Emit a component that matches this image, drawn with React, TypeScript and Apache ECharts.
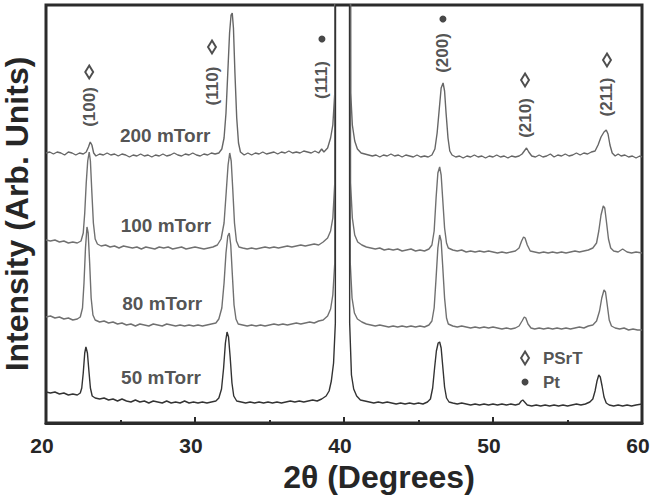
import React, { useEffect, useRef } from "react";
import * as echarts from "echarts";

// 2θ (degrees), intensity (arb. units, offset traces)
const trace50: number[][] = [
  [20.0,31],[20.3,30],[20.6,31],[20.9,29],[21.2,30],[21.5,28],[21.8,29],[22.1,28],[22.3,30],[22.4,35],[22.5,50],[22.6,70],[22.68,76],[22.78,70],[22.88,52],[22.98,35],[23.1,27],[23.3,25],[23.6,24],[23.9,25],[24.2,23],[24.5,24],[24.8,22],[25.1,24],[25.4,22],[25.7,21],[26.0,23],[26.3,21],[26.6,22],[26.9,20],[27.2,22],[27.5,21],[27.8,20],[28.1,22],[28.4,20],[28.7,21],[29.0,20],[29.3,22],[29.6,20],[29.9,21],[30.2,20],[30.5,21],[30.8,20],[31.1,21],[31.4,22],[31.6,25],[31.78,34],[31.92,55],[32.04,80],[32.15,91],[32.25,86],[32.36,66],[32.48,40],[32.6,27],[32.8,22],[33.1,21],[33.4,20],[33.7,21],[34.0,20],[34.3,21],[34.6,20],[34.9,21],[35.2,20],[35.5,21],[35.8,20],[36.1,21],[36.4,22],[36.7,21],[37.0,22],[37.3,21],[37.6,22],[37.9,23],[38.2,22],[38.5,24],[38.8,27],[39.0,32],[39.15,42],[39.3,60],[39.42,100],[39.52,3000],[40.28,3000],[40.38,100],[40.5,48],[40.65,34],[40.85,27],[41.1,23],[41.4,22],[41.7,21],[42.0,20],[42.3,21],[42.6,20],[42.9,21],[43.2,20],[43.5,19],[43.8,20],[44.1,19],[44.4,20],[44.7,19],[45.0,20],[45.3,19],[45.6,21],[45.8,24],[45.95,35],[46.08,55],[46.2,72],[46.32,80],[46.42,81],[46.52,75],[46.62,58],[46.75,36],[46.88,25],[47.05,21],[47.3,20],[47.6,19],[47.9,20],[48.2,19],[48.5,18],[48.8,19],[49.1,18],[49.4,19],[49.7,18],[50.0,19],[50.3,18],[50.6,19],[50.9,18],[51.2,19],[51.5,18],[51.75,19],[51.9,22],[52.0,23],[52.12,21],[52.3,18],[52.6,17],[52.9,18],[53.2,17],[53.5,18],[53.8,17],[54.1,18],[54.4,17],[54.7,18],[55.0,17],[55.3,18],[55.6,19],[55.9,18],[56.2,19],[56.5,21],[56.7,24],[56.85,32],[56.98,42],[57.1,48],[57.2,46],[57.32,37],[57.45,26],[57.6,20],[57.8,18],[58.1,17],[58.4,18],[58.7,17],[59.0,18],[59.3,17],[59.6,18],[60.0,19]
];

const trace80: number[][] = [
  [20.0,106],[20.3,107],[20.6,105],[20.9,106],[21.2,104],[21.5,105],[21.8,103],[22.1,104],[22.3,106],[22.45,115],[22.55,140],[22.65,175],[22.75,196],[22.83,190],[22.93,160],[23.03,125],[23.15,108],[23.3,103],[23.6,101],[23.9,102],[24.2,100],[24.5,101],[24.8,99],[25.1,100],[25.4,98],[25.7,99],[26.0,97],[26.3,99],[26.6,98],[26.9,97],[27.2,99],[27.5,98],[27.8,97],[28.1,99],[28.4,98],[28.7,97],[29.0,98],[29.3,97],[29.6,98],[29.9,97],[30.2,98],[30.5,97],[30.8,98],[31.1,99],[31.4,100],[31.6,104],[31.8,115],[31.95,140],[32.08,170],[32.2,187],[32.3,190],[32.4,178],[32.5,150],[32.62,118],[32.75,104],[32.9,99],[33.2,98],[33.5,97],[33.8,98],[34.1,97],[34.4,98],[34.7,97],[35.0,98],[35.3,99],[35.6,98],[35.9,99],[36.2,98],[36.5,99],[36.8,100],[37.1,99],[37.4,100],[37.7,101],[38.0,100],[38.3,102],[38.6,103],[38.9,107],[39.1,114],[39.25,128],[39.38,160],[39.5,3000],[40.3,3000],[40.42,160],[40.54,125],[40.7,110],[40.9,104],[41.2,101],[41.5,99],[41.8,98],[42.1,97],[42.4,98],[42.7,97],[43.0,96],[43.3,97],[43.6,96],[43.9,97],[44.2,96],[44.5,97],[44.8,96],[45.1,97],[45.4,96],[45.7,98],[45.9,102],[46.05,115],[46.18,145],[46.3,175],[46.42,188],[46.52,182],[46.62,158],[46.75,125],[46.88,105],[47.0,99],[47.3,97],[47.6,96],[47.9,97],[48.2,96],[48.5,95],[48.8,96],[49.1,95],[49.4,96],[49.7,95],[50.0,96],[50.3,95],[50.6,94],[50.9,95],[51.2,94],[51.5,95],[51.75,97],[51.95,102],[52.1,106],[52.2,105],[52.35,99],[52.55,95],[52.8,94],[53.1,95],[53.4,94],[53.7,95],[54.0,94],[54.3,95],[54.6,94],[54.9,95],[55.2,94],[55.5,95],[55.8,96],[56.1,95],[56.4,97],[56.7,98],[56.95,102],[57.15,112],[57.3,125],[57.45,133],[57.55,131],[57.65,120],[57.8,103],[57.95,97],[58.2,95],[58.5,94],[58.8,95],[59.1,93],[59.4,94],[59.7,93],[60.0,93]
];

const trace100: number[][] = [
  [20.0,183],[20.3,182],[20.6,183],[20.9,181],[21.2,182],[21.5,180],[21.8,181],[22.1,180],[22.35,182],[22.5,190],[22.6,210],[22.7,240],[22.8,262],[22.9,271],[22.98,262],[23.08,230],[23.18,200],[23.3,184],[23.45,179],[23.7,177],[24.0,178],[24.3,176],[24.6,177],[24.9,175],[25.2,177],[25.5,176],[25.8,175],[26.1,176],[26.4,174],[26.7,176],[27.0,175],[27.3,174],[27.6,176],[27.9,175],[28.2,176],[28.5,174],[28.8,175],[29.1,176],[29.4,174],[29.7,175],[30.0,176],[30.3,175],[30.6,174],[30.9,175],[31.2,176],[31.5,178],[31.75,184],[31.95,200],[32.1,232],[32.22,258],[32.33,270],[32.43,262],[32.53,235],[32.65,200],[32.78,182],[32.95,176],[33.2,175],[33.5,174],[33.8,175],[34.1,174],[34.4,175],[34.7,176],[35.0,175],[35.3,176],[35.6,175],[35.9,176],[36.2,177],[36.5,176],[36.8,177],[37.1,178],[37.4,177],[37.7,178],[38.0,179],[38.3,178],[38.6,181],[38.9,185],[39.1,192],[39.25,205],[39.38,240],[39.5,3000],[40.32,3000],[40.44,240],[40.56,205],[40.72,188],[40.92,181],[41.2,178],[41.5,176],[41.8,175],[42.1,174],[42.4,175],[42.7,173],[43.0,174],[43.3,173],[43.6,174],[43.9,172],[44.2,173],[44.5,174],[44.8,172],[45.1,173],[45.4,172],[45.7,174],[45.9,178],[46.05,192],[46.18,225],[46.3,250],[46.42,256],[46.52,248],[46.62,225],[46.75,195],[46.88,180],[47.0,175],[47.3,173],[47.6,172],[47.9,173],[48.2,171],[48.5,172],[48.8,171],[49.1,172],[49.4,171],[49.7,172],[50.0,171],[50.3,170],[50.6,171],[50.9,170],[51.2,171],[51.5,172],[51.75,175],[51.92,182],[52.05,186],[52.15,185],[52.3,178],[52.5,172],[52.8,171],[53.1,170],[53.4,171],[53.7,170],[54.0,171],[54.3,170],[54.6,171],[54.9,170],[55.2,171],[55.5,172],[55.8,171],[56.1,172],[56.4,173],[56.7,175],[56.95,180],[57.1,192],[57.25,208],[57.4,217],[57.5,215],[57.6,203],[57.75,184],[57.9,175],[58.1,172],[58.4,171],[58.7,174],[59.0,171],[59.3,170],[59.6,171],[60.0,170]
];

const trace200: number[][] = [
  [20.0,270],[20.25,271],[20.5,269],[20.75,271],[21.0,270],[21.25,268],[21.5,271],[21.75,270],[22.0,268],[22.25,270],[22.5,269],[22.7,271],[22.85,276],[22.97,281],[23.08,278],[23.2,270],[23.35,267],[23.6,269],[23.85,268],[24.1,270],[24.35,268],[24.6,269],[24.85,267],[25.1,269],[25.35,268],[25.6,266],[25.85,268],[26.1,267],[26.35,269],[26.6,267],[26.85,268],[27.1,266],[27.35,268],[27.6,267],[27.85,269],[28.1,267],[28.35,268],[28.6,270],[28.85,268],[29.1,267],[29.35,269],[29.6,268],[29.85,270],[30.1,268],[30.35,267],[30.6,269],[30.85,268],[31.1,270],[31.35,269],[31.6,270],[31.8,274],[31.95,285],[32.08,310],[32.2,350],[32.32,390],[32.42,408],[32.5,410],[32.58,395],[32.68,350],[32.8,305],[32.92,280],[33.05,271],[33.3,268],[33.55,270],[33.8,268],[34.05,270],[34.3,269],[34.55,271],[34.8,269],[35.05,270],[35.3,271],[35.55,269],[35.8,271],[36.05,270],[36.3,272],[36.55,270],[36.8,271],[37.05,270],[37.3,272],[37.55,271],[37.8,270],[38.05,272],[38.3,270],[38.5,274],[38.65,271],[38.9,275],[39.1,285],[39.25,298],[39.38,330],[39.48,3000],[40.35,3000],[40.45,330],[40.56,298],[40.72,282],[40.9,274],[41.15,270],[41.4,269],[41.65,268],[41.9,267],[42.15,268],[42.4,266],[42.65,268],[42.9,267],[43.15,269],[43.4,267],[43.65,268],[43.9,266],[44.15,268],[44.4,267],[44.65,266],[44.9,268],[45.15,266],[45.4,267],[45.65,266],[45.9,268],[46.1,274],[46.25,290],[46.4,315],[46.52,335],[46.65,340],[46.75,332],[46.85,310],[46.98,285],[47.1,272],[47.25,268],[47.5,266],[47.75,267],[48.0,265],[48.25,267],[48.5,266],[48.75,268],[49.0,266],[49.25,267],[49.5,265],[49.75,267],[50.0,266],[50.25,268],[50.5,266],[50.75,267],[51.0,265],[51.25,267],[51.5,266],[51.75,267],[51.95,269],[52.1,272],[52.25,275],[52.4,271],[52.6,267],[52.85,266],[53.1,268],[53.35,266],[53.6,267],[53.85,269],[54.1,266],[54.35,268],[54.6,267],[54.85,269],[55.1,267],[55.35,268],[55.6,270],[55.85,268],[56.1,270],[56.35,269],[56.6,271],[56.85,272],[57.05,278],[57.25,286],[57.45,291],[57.6,293],[57.72,289],[57.85,278],[58.0,270],[58.2,267],[58.4,269],[58.6,267],[58.85,268],[59.1,266],[59.35,267],[59.6,265],[59.85,267],[60.0,266]
];

// sample labels: [2θ, intensity, text]
const sampleLabels: [number, number, string][] = [
  [28.0, 288, "200 mTorr"],
  [28.05, 198, "100 mTorr"],
  [27.8, 120, "80 mTorr"],
  [27.72, 46, "50 mTorr"],
];

// reflection labels: [2θ, intensity, text]
const peakLabels: [number, number, string][] = [
  [22.95, 316, "(100)"],
  [31.2, 337, "(110)"],
  [38.52, 343, "(111)"],
  [46.64, 370, "(200)"],
  [52.15, 305, "(210)"],
  [57.65, 326, "(211)"],
];

// phase markers
const psrtMarks: number[][] = [[22.9, 351], [31.14, 376], [52.15, 343], [57.65, 363]];
const ptMarks: number[][] = [[38.52, 384], [46.64, 404]];

// legend
const legendPsrt: number[] = [52.15, 65];
const legendPt: number[] = [52.15, 41];
const legendText: [number, number, string][] = [
  [53.35, 65, "PSrT"],
  [53.35, 41, "Pt"],
];

const xTicks = [20, 30, 40, 50, 60];

const FONT = "'Liberation Sans', Arial, Helvetica, sans-serif";
const DARK = "#2b2b2b";
const TEXT = "#262626";

export default function App() {
  const ref = useRef<HTMLDivElement>(null);
  useEffect(() => {
    if (!ref.current) return;
    const chart = echarts.init(ref.current, undefined, { renderer: "svg" });
    const lineSeries = (data: number[][], color: string) => ({
      type: "line",
      data,
      showSymbol: false,
      symbol: "none",
      clip: true,
      silent: true,
      lineStyle: { color, width: 1.4 },
      z: 2,
    });
    chart.setOption({
      animation: false,
      grid: {
        left: 46,
        right: 10,
        top: 5,
        bottom: 74,
        outerBoundsMode: "none",
        containLabel: false,
        show: true,
        borderWidth: 3,
        borderColor: DARK,
        backgroundColor: "transparent",
      },
      xAxis: {
        type: "value",
        min: xTicks[0],
        max: xTicks[xTicks.length - 1],
        interval: 10,
        name: "2θ (Degrees)",
        nameLocation: "middle",
        nameGap: 29,
        nameTextStyle: {
          fontFamily: FONT,
          fontWeight: "bold",
          fontSize: 32,
          color: TEXT,
          padding: [0, 0, 0, 70],
        },
        axisLine: { show: true, lineStyle: { color: DARK, width: 3 } },
        axisTick: { show: true, inside: true, length: 6, lineStyle: { color: DARK, width: 2 } },
        minorTick: { show: true, splitNumber: 2, length: 3, lineStyle: { color: DARK, width: 2 } },
        axisLabel: {
          fontFamily: FONT,
          fontWeight: "bold",
          fontSize: 21,
          color: TEXT,
          margin: 12,
          padding: [0, 8, 0, 0],
          showMinLabel: true,
          showMaxLabel: true,
        },
        splitLine: { show: false },
      },
      yAxis: {
        type: "value",
        min: 0,
        max: 418,
        name: "Intensity (Arb. Units)",
        nameLocation: "middle",
        nameRotate: 90,
        nameGap: 13,
        nameTextStyle: {
          fontFamily: FONT,
          fontWeight: "bold",
          fontSize: 32,
          color: TEXT,
        },
        axisLine: { show: false },
        axisTick: { show: false },
        axisLabel: { show: false },
        splitLine: { show: false },
      },
      series: [
        lineSeries(trace200, "#666"),
        lineSeries(trace100, "#707070"),
        lineSeries(trace80, "#707070"),
        lineSeries(trace50, "#333"),
        {
          type: "scatter",
          silent: true,
          symbolSize: 0,
          data: sampleLabels.map((d) => ({ value: [d[0], d[1]], name: d[2] })),
          label: {
            show: true,
            position: "inside",
            formatter: (p: any) => p.name,
            fontFamily: FONT,
            fontWeight: "bold",
            fontSize: 19,
            color: TEXT,
          },
          z: 5,
        },
        {
          type: "scatter",
          silent: true,
          symbolSize: 0,
          data: peakLabels.map((d) => ({ value: [d[0], d[1]], name: d[2] })),
          label: {
            show: true,
            position: "inside",
            rotate: 90,
            formatter: (p: any) => p.name,
            fontFamily: FONT,
            fontWeight: "bold",
            fontSize: 17,
            color: TEXT,
          },
          z: 5,
        },
        {
          type: "scatter",
          silent: true,
          symbol: "diamond",
          symbolSize: [8, 13],
          data: [...psrtMarks, legendPsrt],
          itemStyle: { color: "#fff", borderColor: "#222", borderWidth: 2 },
          z: 6,
        },
        {
          type: "scatter",
          silent: true,
          symbol: "circle",
          symbolSize: 7,
          data: [...ptMarks, legendPt],
          itemStyle: { color: "#1a1a1a" },
          z: 6,
        },
        {
          type: "scatter",
          silent: true,
          symbolSize: 0,
          data: legendText.map((d) => ({ value: [d[0], d[1]], name: d[2] })),
          label: {
            show: true,
            position: "right",
            distance: 0,
            formatter: (p: any) => p.name,
            fontFamily: FONT,
            fontWeight: "bold",
            fontSize: 17,
            color: TEXT,
          },
          z: 5,
        },
      ],
    });
    return () => chart.dispose();
  }, []);
  return (
    <div
      ref={ref}
      style={{ position: "fixed", left: 0, top: 0, width: 652, height: 497, background: "#fff" }}
    />
  );
}
